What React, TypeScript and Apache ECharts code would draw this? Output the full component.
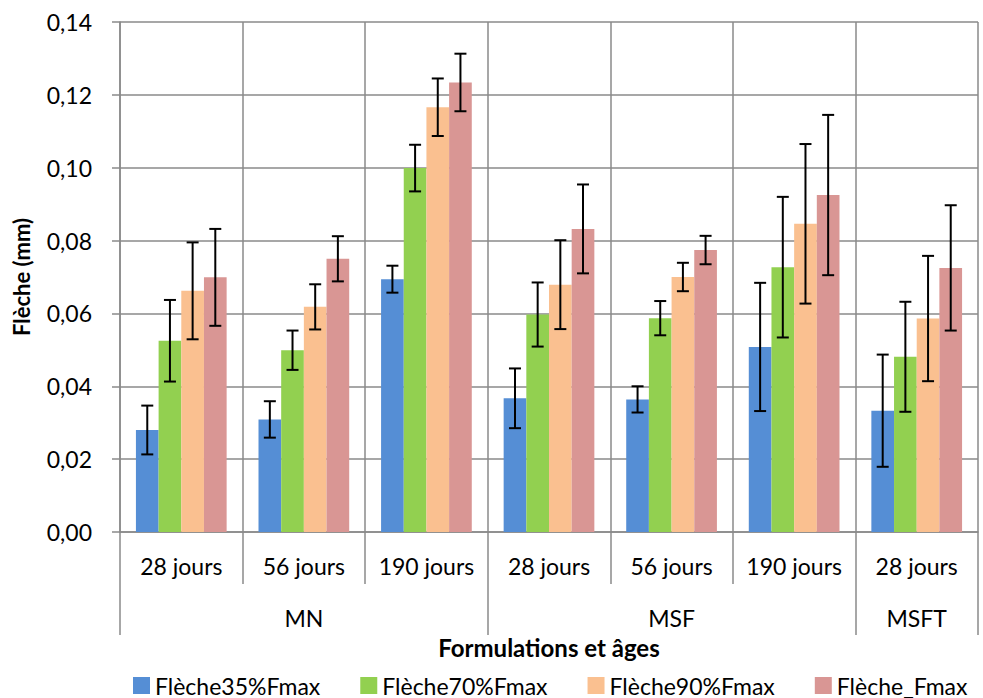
import React, { useEffect, useRef } from "react";
import * as echarts from "echarts";

const ages = ["28 jours", "56 jours", "190 jours", "28 jours", "56 jours", "190 jours", "28 jours"];
const groups = ["", "MN", "", "", "MSF", "", "MSFT"];
const groupStarts = [0, 3, 6];
const seriesNames = ["Flèche35%Fmax", "Flèche70%Fmax", "Flèche90%Fmax", "Flèche_Fmax"];
const colors = ["#558ED5", "#92D050", "#FAC090", "#D99694"];

const f35 = [0.028, 0.0309, 0.0694, 0.0367, 0.0364, 0.0508, 0.0333];
const f35Err = [0.0067, 0.005, 0.0037, 0.0082, 0.0036, 0.0176, 0.0154];
const f70 = [0.0525, 0.0499, 0.0999, 0.0597, 0.0587, 0.0727, 0.0481];
const f70Err = [0.0112, 0.0054, 0.0064, 0.0088, 0.0047, 0.0193, 0.0151];
const f90 = [0.0662, 0.0618, 0.1166, 0.0679, 0.07, 0.0846, 0.0586];
const f90Err = [0.0133, 0.0062, 0.0079, 0.0122, 0.0039, 0.0219, 0.0172];
const fMax = [0.0699, 0.075, 0.1234, 0.0832, 0.0774, 0.0925, 0.0725];
const fMaxErr = [0.0133, 0.0062, 0.0079, 0.0122, 0.0039, 0.022, 0.0172];

const yTicks = [0, 0.02, 0.04, 0.06, 0.08, 0.1, 0.12, 0.14];

const values = [f35, f70, f90, fMax];
const errors = [f35Err, f70Err, f90Err, fMaxErr];

const GAP = 0.26;
const FONT = "Lato";
const GRID = "#8a8a8a";

export default function App() {
  const ref = useRef<HTMLDivElement>(null);
  useEffect(() => {
    if (!ref.current) return;
    const chart = echarts.init(ref.current, null, { renderer: "svg" });
    const errData: number[][] = [];
    values.forEach((arr, s) => {
      arr.forEach((v, i) => {
        errData.push([i, s, v - errors[s][i], v + errors[s][i]]);
      });
    });
    chart.setOption({
      animation: false,
      textStyle: { fontFamily: FONT },
      grid: { left: 120, right: 5, top: 22, bottom: 166 },
      legend: {
        data: seriesNames,
        left: 133,
        top: 674,
        width: 850,
        padding: 0,
        icon: "rect",
        itemWidth: 17,
        itemHeight: 17,
        itemGap: 40,
        textStyle: { fontFamily: FONT, fontSize: 23, color: "#000" },
      },
      xAxis: [
        {
          type: "category",
          data: ages,
          position: "bottom",
          axisLine: { show: true, lineStyle: { color: GRID, width: 1.5 } },
          axisTick: { show: true, interval: 0, length: 52, lineStyle: { color: GRID, width: 1.5 } },
          splitLine: { show: true, interval: 0, lineStyle: { color: GRID, width: 1.5 } },
          axisLabel: { interval: 0, margin: 22, fontSize: 23, color: "#000", fontFamily: FONT },
          name: "Formulations et âges",
          nameLocation: "middle",
          nameGap: 103,
          nameTextStyle: { fontSize: 24, fontWeight: "bold", color: "#000", fontFamily: FONT },
        },
        {
          type: "category",
          data: groups,
          position: "bottom",
          offset: 52,
          axisLine: { show: false },
          axisTick: {
            show: true,
            length: 51,
            interval: (i: number) => groupStarts.indexOf(i) >= 0,
            lineStyle: { color: GRID, width: 1.5 },
          },
          splitLine: { show: false },
          axisLabel: { interval: 0, margin: 22, fontSize: 23, color: "#000", fontFamily: FONT },
        },
      ],
      yAxis: {
        type: "value",
        min: 0,
        max: 0.14,
        interval: 0.02,
        axisLine: { show: true, lineStyle: { color: GRID, width: 1.5 } },
        axisTick: { show: true, length: 8, lineStyle: { color: GRID, width: 1.5 } },
        splitLine: { show: true, lineStyle: { color: GRID, width: 1.5 } },
        axisLabel: {
          margin: 28,
          fontSize: 23,
          color: "#000",
          fontFamily: FONT,
          customValues: yTicks,
          formatter: (v: number) => v.toFixed(2).replace(".", ","),
        },
        name: "Flèche (mm)",
        nameLocation: "middle",
        nameRotate: 90,
        nameGap: 88,
        nameTextStyle: { fontSize: 22, fontWeight: "bold", color: "#000", fontFamily: FONT },
      },
      series: [
        ...values.map((arr, s) => ({
          type: "bar",
          name: seriesNames[s],
          data: arr,
          barGap: "0%",
          barCategoryGap: GAP * 100 + "%",
          itemStyle: { color: colors[s] },
          xAxisIndex: 0,
        })),
        {
          type: "custom",
          name: "err",
          xAxisIndex: 0,
          data: errData,
          encode: { x: 0, y: [2, 3] },
          z: 10,
          renderItem: (params: any, api: any) => {
            const cat = api.value(0);
            const s = api.value(1);
            const lo = api.value(2);
            const hi = api.value(3);
            const band = api.size([1, 0])[0];
            const group = band * (1 - GAP);
            const bw = group / 4;
            const cx = api.coord([cat, 0])[0] - group / 2 + bw * (s + 0.5);
            const yLo = api.coord([cat, lo])[1];
            const yHi = api.coord([cat, hi])[1];
            const cap = 6;
            const st = { stroke: "#000", lineWidth: 2 };
            return {
              type: "group",
              children: [
                { type: "line", shape: { x1: cx, y1: yLo, x2: cx, y2: yHi }, style: st },
                { type: "line", shape: { x1: cx - cap, y1: yHi, x2: cx + cap, y2: yHi }, style: st },
                { type: "line", shape: { x1: cx - cap, y1: yLo, x2: cx + cap, y2: yLo }, style: st },
              ],
            };
          },
        },
      ],
    });
    return () => chart.dispose();
  }, []);
  return (
    <div
      ref={ref}
      style={{ position: "fixed", left: 0, top: 0, width: 983, height: 698, background: "#fff" }}
    />
  );
}
